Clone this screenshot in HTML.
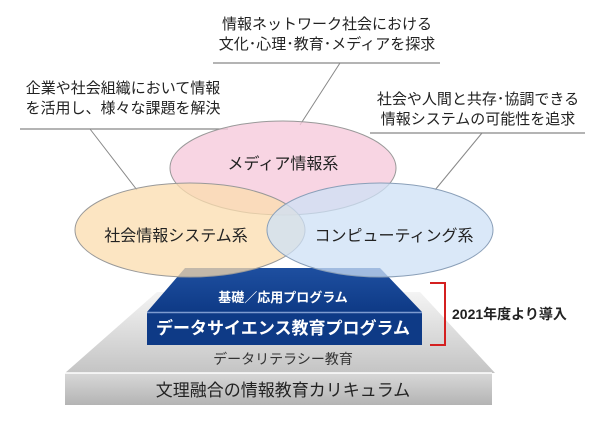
<!DOCTYPE html>
<html><head><meta charset="utf-8"><style>
html,body{margin:0;padding:0;background:#fff;}
svg text{font-family:"Liberation Sans","Noto Sans CJK JP",sans-serif;}
</style></head><body>
<svg width="600" height="422" viewBox="0 0 600 422" xmlns="http://www.w3.org/2000/svg">
<defs>
<linearGradient id="g1" x1="0" y1="0" x2="0" y2="1"><stop offset="0" stop-color="#f4f4f4"/><stop offset="1" stop-color="#c4c4c4"/></linearGradient>
<linearGradient id="g2" x1="0" y1="0" x2="0" y2="1"><stop offset="0" stop-color="#d8d8d8"/><stop offset="1" stop-color="#b4b4b4"/></linearGradient>
<linearGradient id="gb" x1="0" y1="0" x2="0" y2="1"><stop offset="0" stop-color="#1e4fa0"/><stop offset="1" stop-color="#0e3a86"/></linearGradient>
</defs>
<!-- gray pyramid -->
<polygon points="157,292 420,292 495,373 65,373" fill="url(#g1)"/>
<rect x="65" y="373" width="427" height="32" fill="url(#g2)"/>
<line x1="65" y1="373" x2="492" y2="373" stroke="#fff" stroke-width="1.5"/>
<text x="283" y="396" font-size="17" fill="#222" text-anchor="middle">文理融合の情報教育カリキュラム</text>
<text x="283" y="364" font-size="14" fill="#333" text-anchor="middle">データリテラシー教育</text>
<!-- blue -->
<polygon points="185,268 380,268 422,312 147,312" fill="url(#gb)"/>
<rect x="147" y="313" width="275" height="32" fill="#0e3a86"/>
<line x1="147" y1="312.5" x2="422" y2="312.5" stroke="#7d9bd0" stroke-width="1.5"/>
<text x="283" y="302" font-size="13" fill="#fff" text-anchor="middle" font-weight="bold">基礎／応用プログラム</text>
<text x="283" y="334" font-size="17" fill="#fff" text-anchor="middle" font-weight="bold">データサイエンス教育プログラム</text>
<!-- bracket -->
<polyline points="430,283 445,283 445,345 430,345" fill="none" stroke="#d42020" stroke-width="2"/>
<text x="452" y="319" font-size="14" fill="#222" font-weight="bold">2021年度より導入</text>
<!-- leader lines -->
<line x1="213" y1="63" x2="440" y2="63" stroke="#888" stroke-width="1.2"/>
<line x1="340" y1="63" x2="300" y2="125" stroke="#888"/>
<line x1="20" y1="129" x2="228" y2="129" stroke="#888" stroke-width="1.2"/>
<line x1="90" y1="129" x2="137" y2="190" stroke="#888"/>
<line x1="370" y1="133" x2="585" y2="133" stroke="#888" stroke-width="1.2"/>
<line x1="482" y1="133" x2="435" y2="190" stroke="#888"/>
<text x="327" y="29" font-size="15" fill="#222" text-anchor="middle">情報ネットワーク社会における</text>
<text x="327" y="49" font-size="15" fill="#222" text-anchor="middle">文化･心理･教育･メディアを探求</text>
<text x="123" y="93" font-size="15" fill="#222" text-anchor="middle">企業や社会組織において情報</text>
<text x="123" y="113" font-size="15" fill="#222" text-anchor="middle">を活用し、様々な課題を解決</text>
<text x="478" y="104" font-size="15" fill="#222" text-anchor="middle">社会や人間と共存･協調できる</text>
<text x="478" y="124" font-size="15" fill="#222" text-anchor="middle">情報システムの可能性を追求</text>
<!-- ellipses -->
<ellipse cx="283" cy="168" rx="113" ry="47" fill="#f6cbdc" fill-opacity="0.8" stroke="#999" stroke-width="1"/>
<ellipse cx="190" cy="230" rx="115" ry="47" fill="#fbdcae" fill-opacity="0.75" stroke="#999" stroke-width="1"/>
<ellipse cx="380" cy="230" rx="113" ry="47" fill="#cde0f6" fill-opacity="0.75" stroke="#8a9fb8" stroke-width="1"/>
<text x="283" y="169" font-size="16" fill="#222" text-anchor="middle">メディア情報系</text>
<text x="176" y="241" font-size="16" fill="#222" text-anchor="middle">社会情報システム系</text>
<text x="394" y="241" font-size="16" fill="#222" text-anchor="middle">コンピューティング系</text>
</svg>
</body></html>
